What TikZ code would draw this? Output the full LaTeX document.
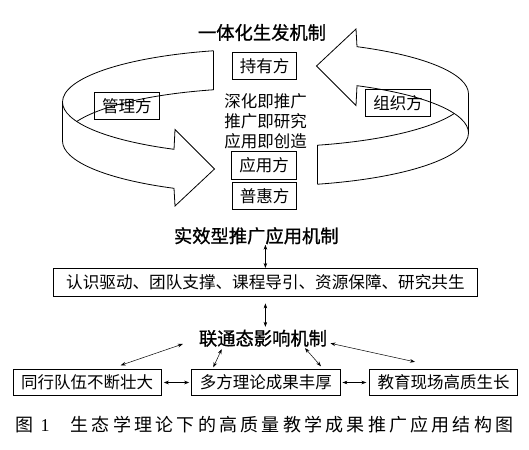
\documentclass[tikz,border=0pt]{standalone}
\usepackage{fontspec}
\setmainfont{Noto Sans CJK SC}
\newfontfamily\headfont[FakeBold=1]{Noto Sans CJK SC}
\newfontfamily\capfont[LetterSpace=18]{Noto Sans CJK SC}
\newfontfamily\numfont{Liberation Serif}
\usetikzlibrary{arrows.meta}

\begin{document}
\begin{tikzpicture}[x=1pt, y=1pt, line width=0.8pt,
   head/.style={inner sep=0pt, font=\headfont\fontsize{18.3}{20}\selectfont},
   tag/.style={draw, inner sep=0pt, minimum width=64.5pt, minimum height=27.5pt, font=\fontsize{16.5}{18}\selectfont},
   wide/.style={draw, inner sep=0pt, minimum width=148.5pt, minimum height=26pt, font=\fontsize{16.5}{18}\selectfont},
   dbl/.style={{Stealth[length=5pt,width=3.6pt]}-{Stealth[length=5pt,width=3.6pt]}, line width=0.5pt}]
  \useasboundingbox (0,0) rectangle (529,449);
  % the two ribbon arrows (right one is the left one turned round)
  \foreach \r in {0,180}{
  \begin{scope}[rotate around={\r:(265.5,331.5)}, x radius=203, y radius=53]
    \draw ([shift={(265.5,347)}]104.84:203 and 53) arc[start angle=104.84, end angle=180]
      -- ++(0,-39) arc[start angle=180, end angle=243.21]
      -- (175,243) -- (214.5,280) -- (175,319.5)
      -- ([shift={(265.5,347)}]243.21:203 and 53) arc[start angle=243.21, end angle=180];
    \draw ([shift={(265.5,347)}]104.84:203 and 53) -- ++(0,-39) arc[start angle=104.84, end angle=158.4];
  \end{scope}}
  % generating mechanism
  \node[head](top) at (262,416.5){一体化生发机制};
  \node[tag](holder) at (264.5,383){持有方};
  \node[align=center, inner sep=0pt, font=\fontsize{16.5}{20}\selectfont](motto) at (265.5,328){深化即推广\\推广即研究\\应用即创造};
  \node[tag](user) at (264,283.5){应用方};
  \node[tag](public) at (264.5,253){普惠方};
  \node[tag](manager) at (126.8,343.2){管理方};
  \node[tag](organizer) at (398,346.2){组织方};
  % application mechanism
  \node[head](apply) at (256.3,213.2){实效型推广应用机制};
  \node[draw, inner sep=0pt, minimum width=424pt, minimum height=27.7pt, font=\fontsize{16.6}{18}\selectfont](ways) at (265.4,166.8){认识驱动、团队支撑、课程导引、资源保障、研究共生};
  \draw[dbl] (ways.north) -- (ways.north |- apply.south);
  % influence mechanism
  \node[head](link) at (263,110.7){联通态影响机制};
  \draw[dbl, shorten <=7pt, shorten >=2.5pt] (ways.south) -- (ways.south |- link.north);
  \node[wide](peer) at (87.2,66.5){同行队伍不断壮大};
  \node[wide](theory) at (265.8,66.5){多方理论成果丰厚};
  \node[wide](field) at (443.5,66.5){教育现场高质生长};
  \draw[dbl, shorten <=2pt, shorten >=2pt] (peer) -- (theory);
  \draw[dbl, shorten <=2pt, shorten >=2.5pt] (theory) -- (field);
  \draw[dbl] ([shift={(-15.7,-5.7)}]link.west) -- ([shift={(33.5,3.8)}]peer.north);
  \draw[dbl] ([shift={(-41.3,-1.9)}]link.south) -- ([shift={(-52.5,1.8)}]theory.north);
  \draw[dbl] ([shift={(42,-0.9)}]link.south) -- ([shift={(55.2,2.8)}]theory.north);
  \draw[dbl] ([shift={(3,-5)}]link.east) -- ([shift={(-28.5,7.2)}]field.north);
  % caption
  \node[anchor=west, inner sep=0pt, font=\capfont\fontsize{18}{20}\selectfont](cap) at (15,24.5){图 {\numfont 1}\hspace{21pt}生态学理论下的高质量教学成果推广应用结构图};
\end{tikzpicture}
\end{document}
